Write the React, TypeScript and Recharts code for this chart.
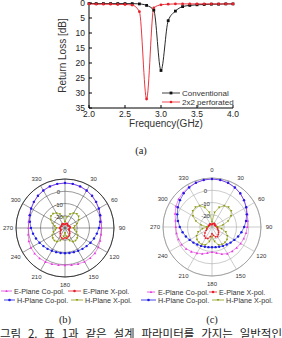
import React from "react";
import {
  LineChart,
  Line,
  XAxis,
  YAxis,
  Label,
  RadarChart,
  Radar,
  PolarGrid,
  PolarAngleAxis,
  PolarRadiusAxis,
} from "recharts";

// (a) return loss vs frequency
const convFreq = [2.0, 2.1, 2.2, 2.3, 2.4, 2.5, 2.6, 2.7, 2.8, 2.9, 3.0, 3.1, 3.2, 3.3, 3.4, 3.5, 3.6, 3.7, 3.8, 3.9, 4.0];
const convLoss = [0.2, 0.2, 0.2, 0.2, 0.2, 0.2, 0.2, 0.3, 0.8, 2.4, 22.5, 5.9, 2.7, 1.2, 0.8, 0.6, 0.5, 0.4, 0.4, 0.3, 0.3];
const perfFreq = [2.0, 2.1, 2.2, 2.3, 2.4, 2.5, 2.6, 2.7, 2.8, 2.9, 3.0, 3.1, 3.2, 3.3, 3.4, 3.5, 3.6, 3.7, 3.8, 3.9, 4.0];
const perfLoss = [0.3, 0.4, 0.4, 0.4, 0.5, 0.5, 0.7, 2.9, 32.0, 1.6, 0.6, 0.4, 0.3, 0.3, 0.3, 0.3, 0.3, 0.3, 0.3, 0.3, 0.3];
const freqTicks = [2.0, 2.5, 3.0, 3.5, 4.0];
const lossTicks = [0, 5, 10, 15, 20, 25, 30, 35];

// (b), (c) radiation patterns, dB, every 10 degrees
const angles = [0, 10, 20, 30, 40, 50, 60, 70, 80, 90, 100, 110, 120, 130, 140, 150, 160, 170, 180, 190, 200, 210, 220, 230, 240, 250, 260, 270, 280, 290, 300, 310, 320, 330, 340, 350];
const angleTicks = [0, 30, 60, 90, 120, 150, 180, 210, 240, 270, 300, 330];
const ringLabelsB = [0, -10, -20];
const ringLabelsC = [0, -10, -20];

const bECo = [6.7, 6.5, 6.0, 5.2, 4.2, 3.0, 1.8, 0.8, 0.0, -0.5, -0.2, 0.6, 1.4, 1.9, 2.0, 1.8, 1.2, 0.6, 0.3, 0.7, 1.3, 1.9, 2.3, 2.4, 2.1, 1.4, 0.5, -0.2, 0.2, 1.0, 2.0, 3.1, 4.3, 5.3, 6.1, 6.5];
const bEX = [-27, -26.5, -26, -26, -26.5, -27, -26.5, -26, -25.5, -26, -26.5, -26.5, -26, -25, -24, -23, -22.5, -21.5, -22, -21, -21.5, -22.5, -24, -25, -26, -26.5, -26, -25.5, -26, -26.5, -27, -26.5, -26, -26, -26.5, -27];
const bHCo = [6.7, 6.6, 6.2, 5.4, 4.4, 3.2, 1.9, 0.5, -0.9, -2.3, -3.6, -4.8, -6.0, -7.0, -7.8, -8.5, -9.0, -9.3, -9.4, -9.3, -9.0, -8.5, -7.8, -7.0, -6.0, -4.8, -3.5, -2.2, -0.9, 0.5, 1.9, 3.2, 4.4, 5.4, 6.2, 6.6];
const bHX = [-25, -21, -18, -16, -15, -15.5, -17, -19.5, -22, -23, -22, -20, -18, -17, -16.5, -17, -19, -23, -26, -23, -19, -17, -16.5, -17, -18, -20, -22, -23, -21.5, -19, -16.5, -15, -14.8, -16, -18, -21];

const cECo = [9.2, 9.0, 8.3, 7.2, 5.8, 4.1, 2.4, 0.8, -0.4, -1.2, -1.8, -2.4, -3.0, -3.7, -4.3, -4.9, -6.5, -8.5, -9.6, -8.4, -6.8, -5.4, -3.8, -2.4, -1.4, -0.9, -0.6, -0.5, 0.3, 2.0, 4.0, 5.5, 6.8, 7.8, 8.5, 9.0];
const cEX = [-28, -27.5, -27, -26.5, -26.5, -27, -27.5, -27, -26.5, -26, -25.5, -25, -24, -23, -22, -21, -21.5, -23, -24.5, -22, -20, -19.5, -20.5, -22.5, -24.5, -25.5, -26, -26.5, -27, -27, -27.5, -27.5, -27, -27, -27.5, -28];
const cHCo = [9.2, 9.0, 8.4, 7.3, 5.9, 4.1, 2.2, 0.2, -1.8, -3.7, -5.6, -7.3, -8.9, -10.2, -11.3, -12.2, -12.9, -13.3, -13.5, -13.3, -12.9, -12.2, -11.3, -10.2, -8.9, -7.3, -5.6, -3.7, -1.8, 0.2, 2.2, 4.1, 5.9, 7.3, 8.4, 9.0];
const cHX = [-26, -18, -13, -10, -9, -9.5, -12, -16, -21, -26, -22, -18, -15.5, -14, -13.5, -13.5, -14.5, -18, -22, -18, -14.5, -13.5, -13.5, -14, -15.5, -18, -22, -26, -21, -16, -12, -9.5, -9, -10, -13, -18];

const MAGENTA = "#e53ee0";
const RED = "#e8202a";
const BLUE = "#1c1ce6";
const OLIVE = "#8c9a12";

const SANS = "'Liberation Sans', Arial, sans-serif";
const SERIF = "'Liberation Serif', 'Times New Roman', serif";

type Shape = "square" | "circle" | "up" | "down";

function marker(shape: Shape, color: string, s: number, cx: number, cy: number, key?: string) {
  if (shape === "square")
    return <rect key={key} x={cx - s} y={cy - s} width={s * 2} height={s * 2} fill={color} />;
  if (shape === "up")
    return <path key={key} d={`M${cx},${cy - s}L${cx + s},${cy + s * 0.8}L${cx - s},${cy + s * 0.8}Z`} fill={color} />;
  if (shape === "down")
    return <path key={key} d={`M${cx},${cy + s}L${cx + s},${cy - s * 0.8}L${cx - s},${cy - s * 0.8}Z`} fill={color} />;
  return <circle key={key} cx={cx} cy={cy} r={s} fill={color} />;
}

const dotOf = (shape: Shape, color: string, s: number) => (p: any) => {
  const key = `${shape}-${color}-${p.index}`;
  if (p.cx == null || p.cy == null) return <g key={key} />;
  return marker(shape, color, s, p.cx, p.cy, key);
};

function ReturnLossChart() {
  const conv = convFreq.map((f, i) => ({ f, rl: convLoss[i] }));
  const perf = perfFreq.map((f, i) => ({ f, rl: perfLoss[i] }));
  const tickStyle = { fontSize: 8.5, fill: "#222", fontFamily: SANS };
  return (
    <LineChart width={282} height={130} margin={{ top: 3, right: 49, bottom: 0, left: 0 }}>
      <XAxis
        dataKey="f"
        type="number"
        domain={[2, 4]}
        ticks={freqTicks}
        interval={0}
        allowDuplicatedCategory={false}
        tickFormatter={(v) => Number(v).toFixed(1)}
        height={22}
        tickSize={-3}
        tickMargin={6}
        tick={tickStyle}
        stroke="#000"
      />
      <XAxis xAxisId="top" orientation="top" type="number" domain={[2, 4]} ticks={freqTicks} height={0} tick={false} tickLine={false} stroke="#000" />
      <YAxis
        type="number"
        domain={[0, 35]}
        reversed
        ticks={lossTicks}
        interval={0}
        width={89}
        tickSize={-3}
        tickMargin={7}
        tick={tickStyle}
        stroke="#000"
      >
        <Label
          value="Return Loss [dB]"
          angle={-90}
          position="insideLeft"
          offset={62}
          style={{ fontSize: 10, fill: "#333", fontFamily: SANS, textAnchor: "middle" }}
        />
      </YAxis>
      <YAxis yAxisId="right" orientation="right" type="number" domain={[0, 35]} width={0} tick={false} tickLine={false} stroke="#000" />
      <Line data={conv} dataKey="rl" type="monotone" stroke="#111" strokeWidth={0.9} dot={dotOf("square", "#111", 1.4)} isAnimationActive={false} />
      <Line data={perf} dataKey="rl" type="monotone" stroke={RED} strokeWidth={0.9} dot={dotOf("circle", RED, 1.4)} isAnimationActive={false} />
    </LineChart>
  );
}

function PolarPanel({
  left,
  cx,
  cy,
  eCo,
  eX,
  hCo,
  hX,
  ringLabels,
  gridColor,
  spokeColor,
}: {
  left: number;
  cx: number;
  cy: number;
  eCo: number[];
  eX: number[];
  hCo: number[];
  hX: number[];
  ringLabels: number[];
  gridColor: string;
  spokeColor: string;
}) {
  const data = angles.map((a, i) => ({ a, eCo: eCo[i], eX: eX[i], hCo: hCo[i], hX: hX[i] }));
  const angleTick = (p: any) => {
    const v = Number(p.payload.value);
    if (v % 30 !== 0) return <g />;
    const rad = (v * Math.PI) / 180;
    const r = 57;
    return (
      <text
        x={cx + r * Math.sin(rad)}
        y={cy - r * Math.cos(rad)}
        textAnchor="middle"
        dominantBaseline="central"
        fontSize={6}
        fill="#333"
        fontFamily={SANS}
      >
        {v}
      </text>
    );
  };
  const radiusTick = (p: any) => {
    const v = Number(p.payload.value);
    if (!ringLabels.includes(v)) return <g />;
    return (
      <text x={p.x - 6.5} y={p.y + 1} textAnchor="middle" dominantBaseline="central" fontSize={6} fill="#333" fontFamily={SANS}>
        {v}
      </text>
    );
  };
  return (
    <div style={{ position: "absolute", left, top: 160 }}>
      <RadarChart
        width={141}
        height={130}
        data={data}
        cx={cx}
        cy={cy}
        outerRadius={49}
        startAngle={90}
        endAngle={-270}
        margin={{ top: 0, right: 0, bottom: 0, left: 0 }}
      >
        <PolarGrid
          gridType="circle"
          polarAngles={angleTicks.map((t) => 90 - t)}
          polarRadius={[12.25, 24.5, 36.75, 49]}
          stroke={gridColor}
          strokeWidth={0.6}
        />
        <PolarAngleAxis dataKey="a" tick={angleTick} tickLine={false} axisLine={{ stroke: spokeColor, strokeWidth: 0.8 }} />
        <PolarRadiusAxis angle={90} domain={[-30, 10]} tickCount={5} axisLine={false} tick={radiusTick} allowDataOverflow />
        <Radar dataKey="eCo" stroke={MAGENTA} strokeWidth={0.6} fill="none" fillOpacity={0} dot={dotOf("up", MAGENTA, 1.3)} isAnimationActive={false} />
        <Radar dataKey="hCo" stroke={BLUE} strokeWidth={0.6} fill="none" fillOpacity={0} dot={dotOf("circle", BLUE, 1.2)} isAnimationActive={false} />
        <Radar dataKey="eX" stroke={RED} strokeWidth={0.5} fill="none" fillOpacity={0} dot={dotOf("circle", RED, 0.9)} isAnimationActive={false} />
        <Radar dataKey="hX" stroke={OLIVE} strokeWidth={0.6} fill="none" fillOpacity={0} dot={dotOf("down", OLIVE, 1.2)} isAnimationActive={false} />
      </RadarChart>
    </div>
  );
}

function LegendEntry({ x1, x2, y, tx, color, shape, label, size }: { x1: number; x2: number; y: number; tx: number; color: string; shape: Shape; label: string; size: number }) {
  return (
    <g>
      <line x1={x1} x2={x2} y1={y} y2={y} stroke={color} strokeWidth={0.8} />
      {marker(shape, color, shape === "square" ? 1.4 : 1.3, (x1 + x2) / 2, y)}
      <text x={tx} y={y} dominantBaseline="central" fontSize={size} fill="#333" fontFamily={SANS}>
        {label}
      </text>
    </g>
  );
}

export default function App() {
  return (
    <div style={{ position: "absolute", left: 0, top: 0, width: 282, height: 338, overflow: "hidden", background: "#fff" }}>
      <div style={{ position: "absolute", left: 0, top: 0 }}>
        <ReturnLossChart />
      </div>
      <PolarPanel left={0} cx={65} cy={68} eCo={bECo} eX={bEX} hCo={bHCo} hX={bHX} ringLabels={ringLabelsB} gridColor="#555" spokeColor="#222" />
      <PolarPanel left={141} cx={71} cy={67} eCo={cECo} eX={cEX} hCo={cHCo} hX={cHX} ringLabels={ringLabelsC} gridColor="#aaa" spokeColor="#999" />
      <svg width={282} height={338} style={{ position: "absolute", left: 0, top: 0, pointerEvents: "none" }}>
        <text x={166} y={123.5} textAnchor="middle" dominantBaseline="central" fontSize={10} fill="#333" fontFamily={SANS}>
          Frequency(GHz)
        </text>
        <LegendEntry x1={162} x2={180} y={93} tx={182} color="#111" shape="square" label="Conventional" size={8} />
        <LegendEntry x1={162} x2={180} y={102} tx={182} color={RED} shape="circle" label="2x2 perforated" size={8} />

        <LegendEntry x1={1} x2={12} y={291} tx={14} color={MAGENTA} shape="up" label="E-Plane Co-pol." size={7.2} />
        <LegendEntry x1={68} x2={81} y={291} tx={83} color={RED} shape="circle" label="E-Plane X-pol." size={7.2} />
        <LegendEntry x1={4} x2={15} y={300} tx={17} color={BLUE} shape="circle" label="H-Plane Co-pol." size={7.2} />
        <LegendEntry x1={71} x2={83} y={300} tx={85} color={OLIVE} shape="down" label="H-Plane X-pol." size={7.2} />

        <LegendEntry x1={147} x2={155} y={292} tx={158} color={MAGENTA} shape="up" label="E-Plane Co-pol." size={7.2} />
        <LegendEntry x1={209} x2={217} y={292} tx={219} color={RED} shape="circle" label="E-Plane X-pol." size={7.2} />
        <LegendEntry x1={141} x2={156} y={300} tx={158} color={BLUE} shape="circle" label="H-Plane Co-pol." size={7.2} />
        <LegendEntry x1={212} x2={224} y={300} tx={226} color={OLIVE} shape="down" label="H-Plane X-pol." size={7.2} />

        <text x={141} y={150} textAnchor="middle" dominantBaseline="central" fontSize={10.5} fill="#222" fontFamily={SERIF}>
          (a)
        </text>
        <text x={65} y={319} textAnchor="middle" dominantBaseline="central" fontSize={10.5} fill="#222" fontFamily={SERIF}>
          (b)
        </text>
        <text x={212} y={319} textAnchor="middle" dominantBaseline="central" fontSize={10.5} fill="#222" fontFamily={SERIF}>
          (c)
        </text>
      </svg>
      <div
        style={{
          position: "absolute",
          left: 0,
          top: 326,
          width: 282,
          fontSize: 11.5,
          lineHeight: "14px",
          fontFamily: "'Noto Sans CJK KR', sans-serif",
          color: "#222",
          textAlign: "justify",
          textAlignLast: "justify",
        }}
      >
        그림 2. 표 1과 같은 설계 파라미터를 가지는 일반적인
      </div>
    </div>
  );
}
